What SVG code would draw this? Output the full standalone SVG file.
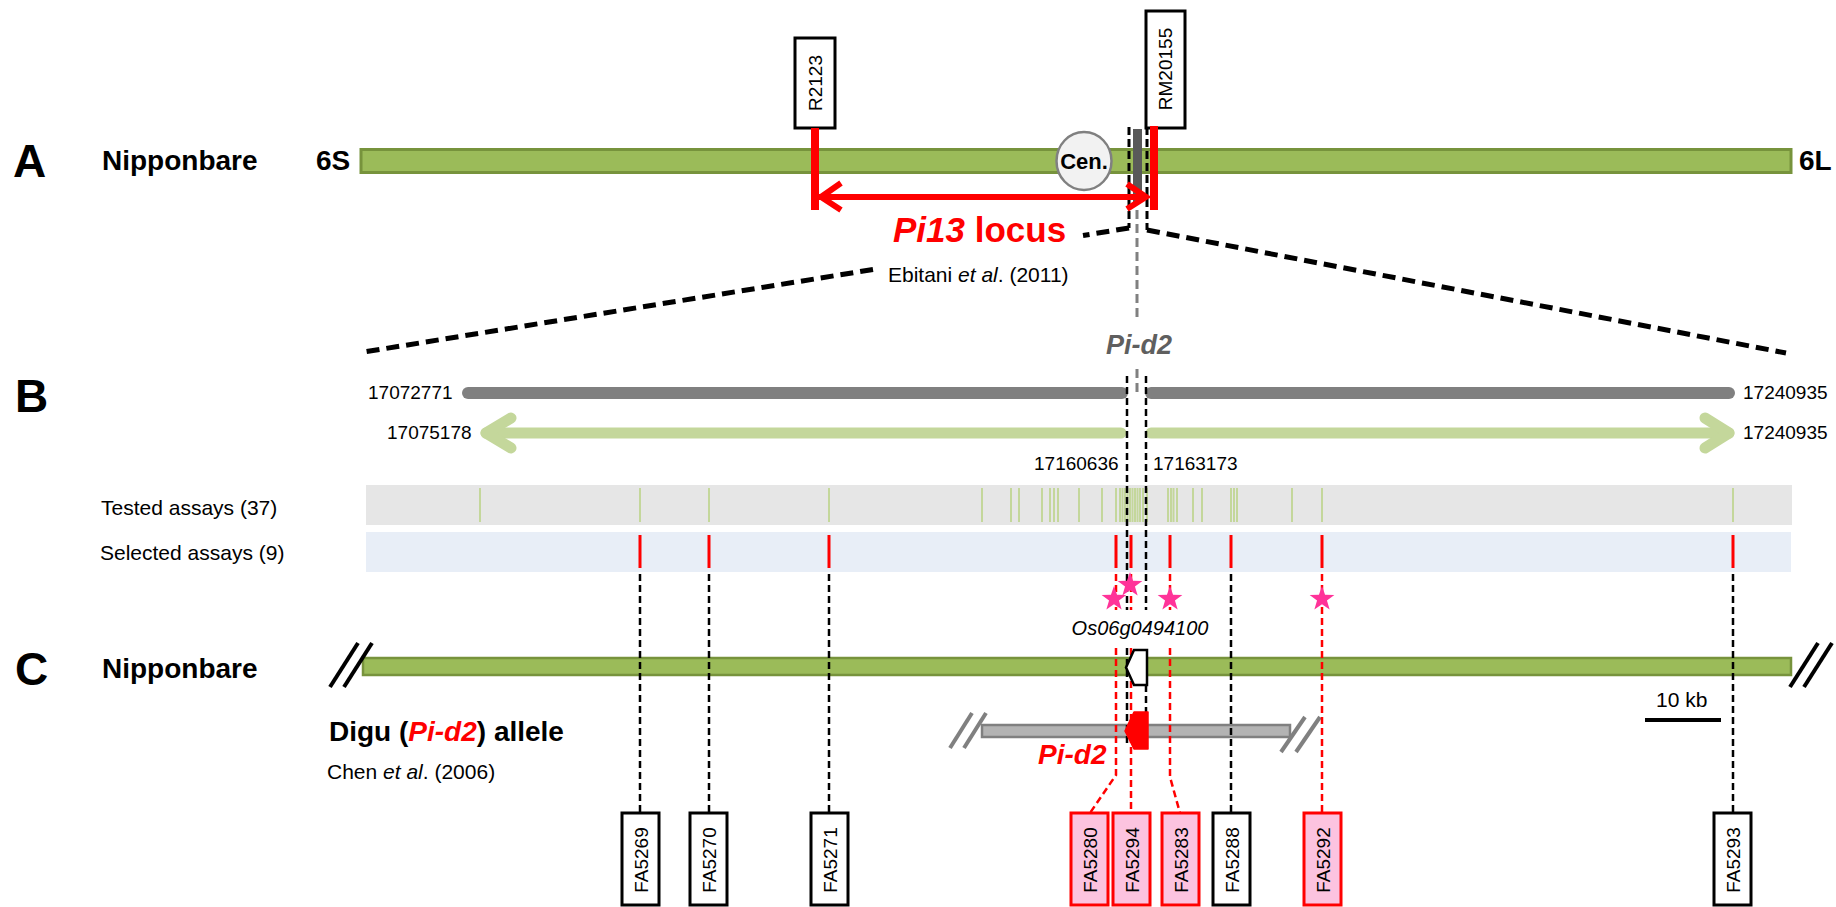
<svg xmlns="http://www.w3.org/2000/svg" xmlns:xlink="http://www.w3.org/1999/xlink" width="1836" height="907" viewBox="0 0 1836 907">
<style>
text{font-family:"Liberation Sans",Arial,Helvetica,sans-serif;fill:#000}
.b{font-weight:bold}
.i{font-style:italic}
.lbl{font-size:46px;font-weight:bold}
.nm{font-size:28px;font-weight:bold}
.sm{font-size:21px}
.num{font-size:19px}
.mk{font-size:19px;text-anchor:middle}
.chrom{fill:#9BBB59;stroke:#77933C;stroke-width:3}
.box{fill:#fff;stroke:#000;stroke-width:3}
.pbox{fill:#FCC3DF;stroke:#FF0000;stroke-width:3}
.zoom{stroke:#000;stroke-width:5;stroke-dasharray:13 7;fill:none}
.bx{stroke:#000;stroke-width:3;stroke-dasharray:8 4;fill:none}
.vd{stroke:#000;stroke-width:2.5;stroke-dasharray:7 4;fill:none}
.rd{stroke:#FF0000;stroke-width:2.5;stroke-dasharray:7 4;fill:none}
.gd{stroke:#808080;stroke-width:3;stroke-dasharray:9 5;fill:none}
.tt{stroke:#C4D79B;stroke-width:2}
.rt{stroke:#FF0000;stroke-width:3}
.brk{stroke:#000;stroke-width:4}
.gbrk{stroke:#808080;stroke-width:4}
</style>
<defs>
<path id="star" d="M0,-13 L3.06,-4.21 L12.36,-4.02 L4.95,1.61 L7.64,10.52 L0,5.2 L-7.64,10.52 L-4.95,1.61 L-12.36,-4.02 L-3.06,-4.21 Z" fill="#FF3399"/>
</defs>

<!-- Section A -->
<g id="panelA">
<text class="lbl" x="13" y="177">A</text>
<text class="nm" x="102" y="170">Nipponbare</text>
<text class="nm" x="316" y="170">6S</text>
<text class="nm" x="1799" y="170">6L</text>
</g>
<g id="chromA">
<rect class="chrom" x="361" y="149.5" width="1430" height="23"/>
</g>
<g id="centromere">
<ellipse cx="1084" cy="161" rx="27.5" ry="29" fill="#F2F2F2" stroke="#808080" stroke-width="2.5"/>
<text class="b" x="1084" y="169" font-size="22" text-anchor="middle">Cen.</text>
</g>
<g id="pid2A">
<rect x="1133" y="129" width="9" height="74" fill="#595959"/>
</g>
<g id="R2123">
<rect class="box" x="795" y="38" width="40" height="90"/>
<text class="mk" transform="translate(815,83) rotate(-90)" dy="7">R2123</text>
</g>
<g id="RM20155">
<rect class="box" x="1146" y="11" width="39" height="117"/>
<text class="mk" transform="translate(1165,69) rotate(-90)" dy="7">RM20155</text>
</g>
<g id="pi13">
<text class="b" x="893" y="242" font-size="35" fill="#FF0000" style="fill:#FF0000"><tspan class="i">Pi13</tspan> locus</text>
<text class="sm" x="888" y="282">Ebitani <tspan class="i">et al</tspan>. (2011)</text>
</g>

<!-- Section B -->
<g id="panelB">
<text class="lbl" x="15" y="412">B</text>
<text class="num" x="368" y="399">17072771</text>
<text class="num" x="1743" y="399">17240935</text>
<text class="num" x="387" y="439">17075178</text>
<text class="num" x="1743" y="439">17240935</text>
<text class="num" x="1034" y="470">17160636</text>
<text class="num" x="1153" y="470">17163173</text>
<text x="1139" y="354" font-size="27" font-weight="bold" font-style="italic" text-anchor="middle" style="fill:#5f5f5f">Pi-d2</text>
</g>
<g id="bacBar">
<line x1="468" y1="393" x2="1122" y2="393" stroke="#808080" stroke-width="12" stroke-linecap="round"/>
<line x1="1151" y1="393" x2="1729" y2="393" stroke="#808080" stroke-width="12" stroke-linecap="round"/>
</g>
<g id="greenArrow" stroke="#C4D79B" stroke-width="11" stroke-linecap="round" stroke-linejoin="round" fill="none">
<line x1="486" y1="433" x2="1121" y2="433"/>
<polyline points="511,418 486,433 511,448"/>
<line x1="1151" y1="433" x2="1729" y2="433"/>
<polyline points="1705,418 1729,433 1705,448"/>
</g>
<g id="tested">
<rect x="366" y="485" width="1426" height="40" fill="#E6E6E6"/>
<text class="sm" x="101" y="515">Tested assays (37)</text>
<g class="tt">
<line x1="480" y1="488" x2="480" y2="522"/><line x1="640" y1="488" x2="640" y2="522"/><line x1="709" y1="488" x2="709" y2="522"/><line x1="829" y1="488" x2="829" y2="522"/>
<line x1="982" y1="488" x2="982" y2="522"/><line x1="1011" y1="488" x2="1011" y2="522"/><line x1="1019" y1="488" x2="1019" y2="522"/><line x1="1042" y1="488" x2="1042" y2="522"/>
<line x1="1050" y1="488" x2="1050" y2="522"/><line x1="1054" y1="488" x2="1054" y2="522"/><line x1="1058" y1="488" x2="1058" y2="522"/><line x1="1079" y1="488" x2="1079" y2="522"/>
<line x1="1102" y1="488" x2="1102" y2="522"/><line x1="1116" y1="488" x2="1116" y2="522"/>
<line x1="1120" y1="488" x2="1120" y2="522"/><line x1="1122.5" y1="488" x2="1122.5" y2="522"/><line x1="1125" y1="488" x2="1125" y2="522"/><line x1="1127.5" y1="488" x2="1127.5" y2="522"/><line x1="1130" y1="488" x2="1130" y2="522"/>
<line x1="1132.5" y1="488" x2="1132.5" y2="522"/><line x1="1135" y1="488" x2="1135" y2="522"/><line x1="1137.5" y1="488" x2="1137.5" y2="522"/><line x1="1140" y1="488" x2="1140" y2="522"/><line x1="1143" y1="488" x2="1143" y2="522"/>
<line x1="1147" y1="488" x2="1147" y2="522"/><line x1="1168" y1="488" x2="1168" y2="522"/><line x1="1171" y1="488" x2="1171" y2="522"/><line x1="1173.5" y1="488" x2="1173.5" y2="522"/><line x1="1177" y1="488" x2="1177" y2="522"/>
<line x1="1193" y1="488" x2="1193" y2="522"/><line x1="1202" y1="488" x2="1202" y2="522"/><line x1="1231" y1="488" x2="1231" y2="522"/><line x1="1234" y1="488" x2="1234" y2="522"/><line x1="1237" y1="488" x2="1237" y2="522"/>
<line x1="1292" y1="488" x2="1292" y2="522"/><line x1="1322" y1="488" x2="1322" y2="522"/><line x1="1733" y1="488" x2="1733" y2="522"/>
</g>
</g>
<g id="selected">
<rect x="366" y="532" width="1425" height="40" fill="#E8EEF7"/>
<text class="sm" x="100" y="560">Selected assays (9)</text>
<g class="rt">
<line x1="640" y1="535" x2="640" y2="568"/><line x1="709" y1="535" x2="709" y2="568"/><line x1="829" y1="535" x2="829" y2="568"/>
<line x1="1116" y1="535" x2="1116" y2="568"/><line x1="1131" y1="535" x2="1131" y2="568"/><line x1="1170" y1="535" x2="1170" y2="568"/>
<line x1="1231" y1="535" x2="1231" y2="568"/><line x1="1322" y1="535" x2="1322" y2="568"/><line x1="1733" y1="535" x2="1733" y2="568"/>
</g>
</g>

<!-- Section C -->
<g id="panelC">
<text class="lbl" x="15" y="685">C</text>
<text class="nm" x="102" y="678">Nipponbare</text>
<text class="nm" x="329" y="741">Digu (<tspan class="i" style="fill:#FF0000">Pi-d2</tspan>) allele</text>
<text class="sm" x="327" y="779">Chen <tspan class="i">et al</tspan>. (2006)</text>
</g>
<g id="chromC">
<rect x="363" y="658" width="1428" height="17" fill="#9BBB59" stroke="#77933C" stroke-width="2.5"/>
<line class="brk" x1="330" y1="687" x2="358" y2="643"/>
<line class="brk" x1="344" y1="687" x2="372" y2="643"/>
<line class="brk" x1="1790" y1="687" x2="1818" y2="643"/>
<line class="brk" x1="1804" y1="687" x2="1832" y2="643"/>
</g>
<g id="diguBar">
<rect x="982" y="725" width="308" height="12" fill="#B3B3B3" stroke="#808080" stroke-width="2.5"/>
<line class="gbrk" x1="950" y1="748" x2="972" y2="713"/>
<line class="gbrk" x1="964" y1="748" x2="986" y2="713"/>
<line class="gbrk" x1="1281" y1="752" x2="1305" y2="717"/>
<line class="gbrk" x1="1296" y1="752" x2="1320" y2="717"/>
</g>
<g id="scale">
<text class="sm" x="1656" y="707">10 kb</text>
<line x1="1645" y1="720" x2="1721" y2="720" stroke="#000" stroke-width="4"/>
</g>

<!-- Connectors -->
<g id="connectors">
<line class="bx" x1="1129" y1="127" x2="1129" y2="228"/>
<line class="bx" x1="1147" y1="127" x2="1147" y2="230"/>
<line class="zoom" x1="1129" y1="228" x2="1083" y2="235.5"/>
<line class="zoom" x1="873" y1="269.5" x2="364" y2="352"/>
<line class="zoom" x1="1147" y1="230" x2="1786" y2="353"/>
<line class="gd" x1="1137" y1="210" x2="1137" y2="318"/>
<line class="gd" x1="1137" y1="369" x2="1137" y2="394"/>
<line class="vd" x1="1127" y1="376" x2="1127" y2="610"/>
<line class="vd" x1="1127" y1="648" x2="1127" y2="745"/>
<line class="vd" x1="1146" y1="376" x2="1146" y2="610"/>
<line class="vd" x1="1146" y1="685" x2="1146" y2="713"/>
<line class="vd" x1="640" y1="574" x2="640" y2="813"/>
<line class="vd" x1="709" y1="574" x2="709" y2="813"/>
<line class="vd" x1="829" y1="574" x2="829" y2="813"/>
<line class="vd" x1="1231" y1="574" x2="1231" y2="813"/>
<line class="vd" x1="1733" y1="574" x2="1733" y2="813"/>
<line class="rd" x1="1116" y1="574" x2="1116" y2="610"/>
<polyline class="rd" points="1116,648 1116,775 1090,813"/>
<line class="rd" x1="1131" y1="574" x2="1131" y2="610"/>
<line class="rd" x1="1131" y1="648" x2="1131" y2="813"/>
<line class="rd" x1="1170" y1="574" x2="1170" y2="610"/>
<polyline class="rd" points="1170,648 1170,777 1180,813"/>
<line class="rd" x1="1322" y1="574" x2="1322" y2="813"/>
<g stroke="#FF0000" stroke-width="6" fill="none">
<line x1="819" y1="197" x2="1146" y2="197"/>
<polyline points="841,183 821,197 841,210"/>
<polyline points="1127,184 1146,197 1127,209"/>
</g>
<line x1="815" y1="128" x2="815" y2="210" stroke="#FF0000" stroke-width="8"/>
<line x1="1154" y1="126" x2="1154" y2="210" stroke="#FF0000" stroke-width="8"/>
</g>

<g id="geneOs06g">
<polygon points="1147,650 1134,650 1126,667.5 1134,685 1147,685" fill="#fff" stroke="#000" stroke-width="2.5"/>
<text x="1140" y="635" font-size="20" font-style="italic" text-anchor="middle">Os06g0494100</text>
</g>
<g id="genePid2">
<polygon points="1148,712 1134,712 1125,731 1134,749 1148,749" fill="#FF0000" stroke="#FF0000" stroke-width="1.5" stroke-linejoin="round"/>
<text x="1038" y="764" font-size="28" font-weight="bold" font-style="italic" style="fill:#FF0000">Pi-d2</text>
</g>
<g id="stars">
<use xlink:href="#star" href="#star" x="1114" y="599"/>
<use xlink:href="#star" href="#star" x="1130" y="585"/>
<use xlink:href="#star" href="#star" x="1170" y="599"/>
<use xlink:href="#star" href="#star" x="1322" y="599"/>
</g>

<g id="FA5269"><rect class="box" x="622" y="813" width="37" height="92"/><text class="mk" transform="translate(640.5,860) rotate(-90)" dy="7">FA5269</text></g>
<g id="FA5270"><rect class="box" x="690" y="813" width="37" height="92"/><text class="mk" transform="translate(708.5,860) rotate(-90)" dy="7">FA5270</text></g>
<g id="FA5271"><rect class="box" x="811" y="813" width="37" height="92"/><text class="mk" transform="translate(829.5,860) rotate(-90)" dy="7">FA5271</text></g>
<g id="FA5280"><rect class="pbox" x="1071" y="813" width="37" height="92"/><text class="mk" transform="translate(1089.5,860) rotate(-90)" dy="7">FA5280</text></g>
<g id="FA5294"><rect class="pbox" x="1113" y="813" width="37" height="92"/><text class="mk" transform="translate(1131.5,860) rotate(-90)" dy="7">FA5294</text></g>
<g id="FA5283"><rect class="pbox" x="1162" y="813" width="37" height="92"/><text class="mk" transform="translate(1180.5,860) rotate(-90)" dy="7">FA5283</text></g>
<g id="FA5288"><rect class="box" x="1213" y="813" width="37" height="92"/><text class="mk" transform="translate(1231.5,860) rotate(-90)" dy="7">FA5288</text></g>
<g id="FA5292"><rect class="pbox" x="1304" y="813" width="37" height="92"/><text class="mk" transform="translate(1322.5,860) rotate(-90)" dy="7">FA5292</text></g>
<g id="FA5293"><rect class="box" x="1714" y="813" width="37" height="92"/><text class="mk" transform="translate(1732.5,860) rotate(-90)" dy="7">FA5293</text></g>
</svg>
